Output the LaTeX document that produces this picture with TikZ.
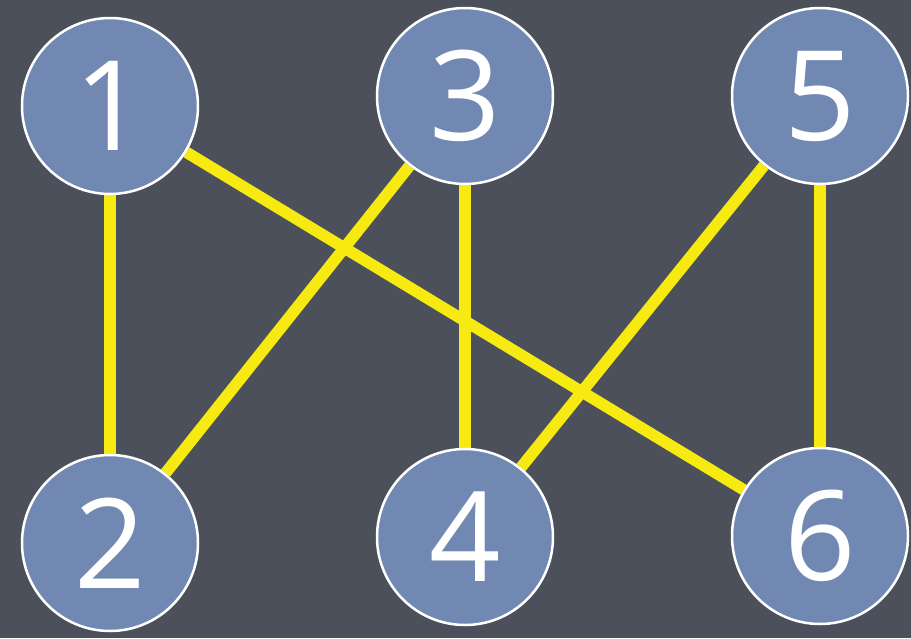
\documentclass[tikz,border=0pt]{standalone}
\usepackage{fontspec}
\setmainfont{Open Sans}
\usetikzlibrary{backgrounds}
\definecolor{board}{HTML}{4B505B}
\definecolor{nodefill}{HTML}{7189B2}
\definecolor{edgeyellow}{HTML}{F6EA10}
\begin{document}
\begin{tikzpicture}[x=1pt,y=-1pt,
  vertex/.style={circle,draw=white,line width=2.5pt,fill=nodefill,minimum size=176pt,inner sep=0pt,text=white,font=\fontsize{125}{125}\selectfont},
  link/.style={edgeyellow,line width=11.5pt}]
\node[vertex] (n1) at (110,106) {1};
\node[vertex] (n3) at (465,96) {3};
\node[vertex] (n5) at (820,96) {5};
\node[vertex] (n2) at (110,543) {2};
\node[vertex] (n4) at (465,537) {4};
\node[vertex] (n6) at (820,536) {6};
\begin{pgfonlayer}{background}
\fill[board] (0,0) rectangle (911,638);
\draw[link] (n1) -- (n2);
\draw[link] (n1) -- (n6);
\draw[link] (n3) -- (n2);
\draw[link] (n3) -- (n4);
\draw[link] (n5) -- (n4);
\draw[link] (n5) -- (n6);
\end{pgfonlayer}
\useasboundingbox (0,0) rectangle (911,638);
\end{tikzpicture}
\end{document}
